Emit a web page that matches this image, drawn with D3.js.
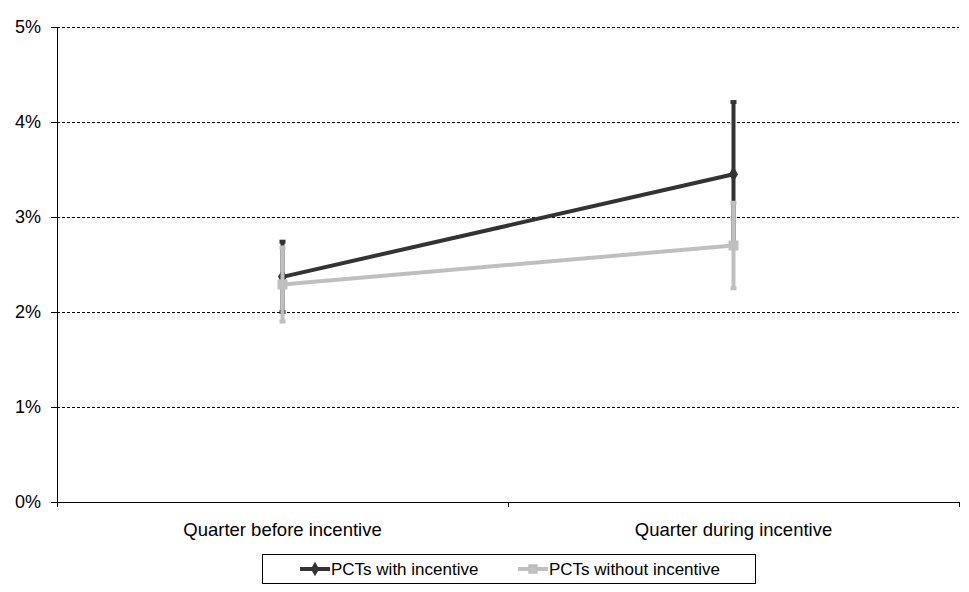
<!DOCTYPE html>
<html>
<head>
	<meta charset="utf-8">
	<title>PCTs incentive</title>
	<script src="https://cdn.jsdelivr.net/npm/d3@7/dist/d3.min.js"></script>
	<style>
		body { margin: 0; background: #fff; }
		text { font-family: "Liberation Sans", Arial, sans-serif; fill: #000; }
	</style>
</head>
<body>
<script>

var categories = ["Quarter before incentive", "Quarter during incentive"];
var seriesNames = ["PCTs with incentive", "PCTs without incentive"];
var withIncentive = [0.0237, 0.0345];
var withIncentiveErr = [0.0037, 0.0076];
var withoutIncentive = [0.0229, 0.0270];
var withoutIncentiveErr = [0.0039, 0.0045];
var yTicks = [0, 0.01, 0.02, 0.03, 0.04, 0.05];

var width = 969, height = 592;
var plotLeft = 57, plotRight = 959, plotTop = 27, plotBottom = 502;

var svg = d3.select("body").append("svg")
	.attr("width", width)
	.attr("height", height);

var x = d3.scaleBand().domain(categories).range([plotLeft, plotRight]);
var y = d3.scaleLinear().domain([0, 0.05]).range([plotBottom, plotTop]);

// gridlines
svg.append("g").selectAll("line")
	.data(yTicks.slice(1))
	.enter().append("line")
	.attr("x1", plotLeft).attr("x2", plotRight)
	.attr("y1", function(d){ return y(d) + 0.5; })
	.attr("y2", function(d){ return y(d) + 0.5; })
	.attr("stroke", "#000")
	.attr("stroke-width", 1)
	.attr("stroke-dasharray", "3,2");

// y axis
var yAxis = d3.axisLeft(y)
	.tickValues(yTicks)
	.tickFormat(d3.format(".0%"))
	.tickSizeOuter(0)
	.tickSize(6)
	.tickPadding(10);
var gy = svg.append("g")
	.attr("transform", "translate(" + plotLeft + ",0)")
	.call(yAxis);
gy.selectAll("text").style("font-size", "18px");
gy.selectAll("line, path").attr("stroke", "#000").attr("shape-rendering", "crispEdges");

// x axis
var xAxis = d3.axisBottom(x).tickSize(0).tickPadding(21);
var gx = svg.append("g")
	.attr("transform", "translate(0," + plotBottom + ")")
	.call(xAxis);
gx.selectAll("text").style("font-size", "18.5px");
gx.select("path").attr("stroke", "#000").attr("shape-rendering", "crispEdges");
// boundary ticks between categories
var bounds = [plotLeft, plotLeft + x.bandwidth(), plotRight];
gx.selectAll(".bt").data(bounds).enter().append("line")
	.attr("x1", function(d){ return d; }).attr("x2", function(d){ return d; })
	.attr("y1", 0).attr("y2", 5)
	.attr("stroke", "#000")
	.attr("shape-rendering", "crispEdges");

function cx(d, i) { return x(categories[i]) + x.bandwidth() / 2; }

var series = [
	{ name: seriesNames[0], values: withIncentive, err: withIncentiveErr, color: "#333333", marker: "diamond" },
	{ name: seriesNames[1], values: withoutIncentive, err: withoutIncentiveErr, color: "#bfbfbf", marker: "square" }
];

var line = d3.line()
	.x(function(d, i){ return cx(d, i); })
	.y(function(d){ return y(d); });

series.forEach(function(s) {
	var g = svg.append("g");
	// error bars
	g.selectAll(".err").data(s.values).enter().append("line")
		.attr("x1", cx).attr("x2", cx)
		.attr("y1", function(d, i){ return y(d + s.err[i]); })
		.attr("y2", function(d, i){ return y(d - s.err[i]); })
		.attr("stroke", s.color)
		.attr("stroke-width", 4);
	g.selectAll(".cap").data(s.values).enter().append("rect")
		.attr("x", function(d, i){ return cx(d, i) - 3; })
		.attr("y", function(d, i){ return y(d + s.err[i]) - 2; })
		.attr("width", 6).attr("height", 4)
		.attr("fill", s.color);
	g.selectAll(".cap2").data(s.values).enter().append("rect")
		.attr("x", function(d, i){ return cx(d, i) - 3; })
		.attr("y", function(d, i){ return y(d - s.err[i]) - 2; })
		.attr("width", 6).attr("height", 4)
		.attr("fill", s.color);
	// line
	g.append("path")
		.datum(s.values)
		.attr("d", line)
		.attr("fill", "none")
		.attr("stroke", s.color)
		.attr("stroke-width", 4);
	// markers
	var sym = s.marker === "diamond" ? d3.symbolDiamond : d3.symbolSquare;
	var size = s.marker === "diamond" ? 70 : 100;
	g.selectAll(".mk").data(s.values).enter().append("path")
		.attr("d", d3.symbol().type(sym).size(size))
		.attr("transform", function(d, i){ return "translate(" + cx(d, i) + "," + y(d) + ")"; })
		.attr("fill", s.color);
});

// legend
var lg = svg.append("g");
lg.append("rect")
	.attr("x", 262.5).attr("y", 554.5)
	.attr("width", 493).attr("height", 29)
	.attr("fill", "#fff")
	.attr("stroke", "#000")
	.attr("stroke-width", 1);
var legendX = [300, 518];
series.forEach(function(s, i) {
	var lx = legendX[i], ly = 569;
	lg.append("line")
		.attr("x1", lx).attr("x2", lx + 30)
		.attr("y1", ly).attr("y2", ly)
		.attr("stroke", s.color).attr("stroke-width", 4);
	var sym = s.marker === "diamond" ? d3.symbolDiamond : d3.symbolSquare;
	lg.append("path")
		.attr("d", d3.symbol().type(sym).size(s.marker === "diamond" ? 60 : 90))
		.attr("transform", "translate(" + (lx + 15) + "," + ly + ")")
		.attr("fill", s.color);
	lg.append("text")
		.attr("x", lx + 31).attr("y", ly + 6)
		.style("font-size", "17px")
		.text(s.name);
});

</script>
</body>
</html>
